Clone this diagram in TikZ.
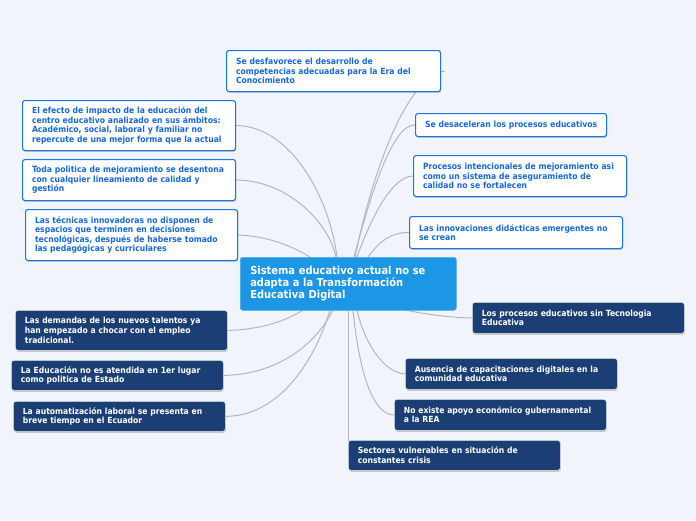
\documentclass[tikz,border=0pt]{standalone}
\usepackage{fontspec}
\newfontfamily\nf{DejaVu Sans Condensed}[BoldFont={DejaVu Sans Condensed Bold}]
\usetikzlibrary{shadows}
\definecolor{bg}{HTML}{F1F4FB}
\definecolor{bblue}{HTML}{1A73E8}
\definecolor{tblue}{HTML}{1668DA}
\definecolor{cfill}{HTML}{1C96E5}
\definecolor{navy}{HTML}{1B3F74}
\definecolor{conn}{HTML}{B4B6BA}
\pgfdeclarelayer{bglayer}
\pgfdeclarelayer{links}
\pgfsetlayers{bglayer,links,main}
\tikzset{
  box/.style={anchor=north west, rounded corners=2.5pt, inner xsep=9.5pt, inner ysep=2pt,
    align=left, font=\nf\bfseries\fontsize{8.5}{9.6}\selectfont,
    general shadow={shadow xshift=0.6pt, shadow yshift=-1.4pt, fill=black, opacity=0.18}},
  wbox/.style={box, draw=bblue, line width=1.1pt, fill=white, text=tblue},
  nbox/.style={box, draw=white!80!gray, line width=0.7pt, fill=navy, text=white},
  cbox/.style={anchor=north west, rounded corners=2.5pt, inner xsep=10pt, inner ysep=2pt,
    align=left, fill=cfill, text=white, draw=cfill!80!white, line width=0.6pt,
    font=\nf\bfseries\fontsize{11}{12}\selectfont},
  link/.style={draw=conn, line width=1pt}
}
\begin{document}
\begin{tikzpicture}[x=1pt,y=-1pt]
\begin{pgfonlayer}{bglayer}
\fill[bg] (0,0) rectangle (696,520);
\end{pgfonlayer}
\useasboundingbox (0,0) rectangle (696,520);
% nodes
\node[cbox, text width=196pt, minimum height=53pt] (c) at (240,257) {Sistema educativo actual no se\\adapta a la Transformación\\Educativa Digital};
\node[wbox, text width=195pt, minimum height=41pt] (b1) at (226,50) {Se desfavorece el desarrollo de\\competencias adecuadas para la Era del\\Conocimiento};
\node[wbox, text width=194pt, minimum height=50pt] (b2) at (22,100) {El efecto de impacto de la educación del\\centro educativo analizado en sus ámbitos:\\Académico, social, laboral y familiar no\\repercute de una mejor forma que la actual};
\node[wbox, text width=194pt, minimum height=41pt] (b3) at (22,159) {Toda politica de mejoramiento se desentona\\con cualquier lineamiento de calidad y\\gestión};
\node[wbox, text width=193pt, minimum height=51pt] (b4) at (25,209) {Las técnicas innovadoras no disponen de\\espacios que terminen en decisiones\\tecnológicas, después de haberse tomado\\las pedagógicas y curriculares};
\node[wbox, text width=172pt, minimum height=23pt] (b6) at (415,113) {\mbox{Se desaceleran los procesos educativos}};
\node[wbox, text width=194pt, minimum height=41pt] (b7) at (413,155) {Procesos intencionales de mejoramiento asi\\como un sistema de aseguramiento de\\calidad no se fortalecen};
\node[wbox, text width=194pt, minimum height=32pt] (b8) at (409,216) {Las innovaciones didácticas emergentes no\\se crean};
\node[nbox, text width=193pt, minimum height=31pt] (b9) at (472,302) {Los procesos educativos sin Tecnologia\\Educativa};
\node[nbox, text width=193pt, minimum height=31pt] (b10) at (405,358) {Ausencia de capacitaciones digitales en la\\comunidad educativa};
\node[nbox, text width=193pt, minimum height=31pt] (b11) at (394,399) {No existe apoyo económico gubernamental\\a la REA};
\node[nbox, text width=193pt, minimum height=30pt] (b12) at (348,440) {Sectores vulnerables en situación de\\constantes crisis};
\node[nbox, text width=193pt, minimum height=40pt] (b13) at (15,310) {Las demandas de los nuevos talentos ya\\han empezado a chocar con el empleo\\tradicional.};
\node[nbox, text width=193pt, minimum height=30pt] (b14) at (11,360) {La Educación no es atendida en 1er lugar\\como politica de Estado};
\node[nbox, text width=193pt, minimum height=30pt] (b15) at (13,401) {La automatización laboral se presenta en\\breve tiempo en el Ecuador};
% anchor points on central node
\coordinate (t1) at (355,257);
\coordinate (t2) at (337,257);
\coordinate (t3) at (336,257);
\coordinate (t4) at (310,257);
\coordinate (t6) at (354,257);
\coordinate (t7) at (357,257);
\coordinate (t8) at (368,257);
\coordinate (s9) at (405,310);
\coordinate (s10) at (357,310);
\coordinate (s11) at (353,310);
\coordinate (s12) at (348,310);
\coordinate (s13) at (303,310);
\coordinate (s14) at (333,310);
\coordinate (s15) at (330,310);
\coordinate (e1) at ([xshift=4pt]b1.east);
\begin{pgfonlayer}{links}
\draw[link] (t1) .. controls (375,160) and (410,75) .. (e1);
\draw[link] (b2.east) .. controls (292,126) and (330,200) .. (t2);
\draw[link] (b3.east) .. controls (285,180) and (328,220) .. (t3);
\draw[link] (b4.east) .. controls (270,236) and (295,248) .. (t4);
\draw[link] (t6) .. controls (372,190) and (393,124) .. (b6.west);
\draw[link] (t7) .. controls (372,215) and (393,176) .. (b7.west);
\draw[link] (t8) .. controls (380,240) and (393,232) .. (b8.west);
\draw[link] (s9) .. controls (430,315) and (455,318) .. (b9.west);
\draw[link] (s10) .. controls (365,345) and (385,373) .. (b10.west);
\draw[link] (s11) .. controls (360,380) and (375,415) .. (b11.west);
\draw[link] (s12) -- (b12.west);
\draw[link] (b13.east) .. controls (250,330) and (280,325) .. (s13);
\draw[link] (b14.east) .. controls (265,375) and (310,355) .. (s14);
\draw[link] (b15.east) .. controls (280,416) and (315,360) .. (s15);
\end{pgfonlayer}
\end{tikzpicture}
\end{document}
